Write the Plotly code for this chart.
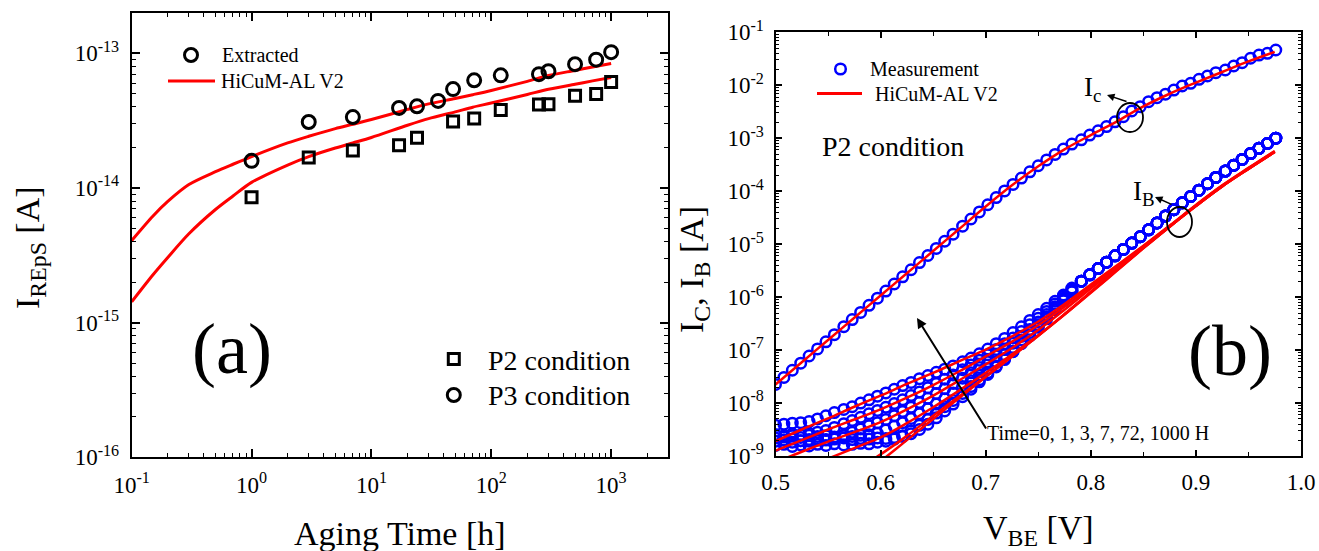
import plotly.graph_objects as go

W, H = 1319, 551
FONT = "Liberation Serif, Times New Roman, serif"

# ---------------- Panel (a): I_REpS vs aging time ----------------
aging_p3_h = [1, 3, 7, 17, 24, 36, 48, 72, 120, 250, 300, 500, 750, 1000]
ireps_p3 = [1.59e-14, 3.09e-14, 3.36e-14, 3.93e-14, 4.04e-14, 4.43e-14, 5.42e-14,
            6.30e-14, 6.86e-14, 7.00e-14, 7.36e-14, 8.30e-14, 8.97e-14, 1.02e-13]
aging_p2_h = [1, 3, 7, 17, 24, 48, 72, 120, 250, 300, 500, 750, 1000]
ireps_p2 = [8.55e-15, 1.68e-14, 1.90e-14, 2.08e-14, 2.36e-14, 3.12e-14, 3.28e-14,
            3.79e-14, 4.17e-14, 4.19e-14, 4.84e-14, 4.99e-14, 6.11e-14]
fit_time_h = [0.1, 0.15, 0.2, 0.3, 0.5, 0.7, 1, 2, 3, 5, 7, 10, 20, 30, 50, 70, 100,
              200, 300, 500, 700, 1000]
fit_p3 = [4.07e-15, 6.17e-15, 7.94e-15, 1.06e-14, 1.32e-14, 1.50e-14, 1.71e-14, 2.16e-14,
          2.42e-14, 2.76e-14, 2.97e-14, 3.22e-14, 3.83e-14, 4.21e-14, 4.62e-14, 4.93e-14,
          5.30e-14, 6.19e-14, 6.84e-14, 7.46e-14, 7.91e-14, 8.39e-14]
fit_p2 = [1.43e-15, 2.26e-15, 3.05e-15, 4.57e-15, 6.92e-15, 8.71e-15, 1.10e-14, 1.48e-14,
          1.71e-14, 1.98e-14, 2.16e-14, 2.37e-14, 2.92e-14, 3.27e-14, 3.67e-14, 3.98e-14,
          4.27e-14, 4.95e-14, 5.40e-14, 5.89e-14, 6.24e-14, 6.61e-14]
a_xtick_vals = [0.1, 1, 10, 100, 1000]
a_xtick_text = ["10<sup>-1</sup>", "10<sup>0</sup>", "10<sup>1</sup>", "10<sup>2</sup>", "10<sup>3</sup>"]
a_ytick_vals = [1e-16, 1e-15, 1e-14, 1e-13]
a_ytick_text = ["10<sup>-16</sup>", "10<sup>-15</sup>", "10<sup>-14</sup>", "10<sup>-13</sup>"]

# ---------------- Panel (b): Gummel plot (values as log10 of current in A) ----------------
vbe_meas = [0.500, 0.508, 0.516, 0.524, 0.532, 0.540, 0.548, 0.556, 0.565, 0.573,
            0.581, 0.589, 0.597, 0.605, 0.613, 0.621, 0.629, 0.637, 0.645, 0.653,
            0.661, 0.669, 0.678, 0.686, 0.694, 0.702, 0.710, 0.718, 0.726, 0.734,
            0.742, 0.750, 0.758, 0.766, 0.774, 0.782, 0.791, 0.799, 0.807, 0.815,
            0.823, 0.831, 0.839, 0.847, 0.855, 0.863, 0.871, 0.879, 0.887, 0.895,
            0.903, 0.911, 0.919, 0.928, 0.936, 0.944, 0.952, 0.960, 0.968, 0.976]
ic_meas_log10 = [-7.65, -7.516, -7.381, -7.247, -7.112, -6.978, -6.844, -6.709, -6.558, -6.424,
                 -6.289, -6.155, -6.02, -5.886, -5.752, -5.617, -5.483, -5.348, -5.214, -5.08,
                 -4.945, -4.811, -4.66, -4.525, -4.391, -4.256, -4.12, -3.995, -3.872, -3.752,
                 -3.635, -3.52, -3.41, -3.305, -3.205, -3.11, -3.03, -2.94, -2.86, -2.78,
                 -2.69, -2.594, -2.486, -2.405, -2.31, -2.235, -2.17, -2.09, -2.014, -1.963,
                 -1.888, -1.825, -1.763, -1.712, -1.636, -1.574, -1.49, -1.43, -1.397, -1.334]
# I_B measured, V_BE = 0.500 ... 0.782 (separate per aging time)
ib_1000h_low = [-8.42, -8.40, -8.38, -8.37, -8.35, -8.30, -8.24, -8.18, -8.12, -8.07,
                -8.00, -7.94, -7.87, -7.81, -7.74, -7.67, -7.61, -7.54, -7.48, -7.42,
                -7.36, -7.30, -7.22, -7.15, -7.07, -6.98, -6.88, -6.78, -6.67, -6.56,
                -6.44, -6.33, -6.21, -6.08, -5.96, -5.83]
ib_72h_low = [-8.60, -8.62, -8.58, -8.60, -8.57, -8.55, -8.52, -8.46, -8.39, -8.33,
              -8.27, -8.20, -8.14, -8.08, -8.01, -7.94, -7.86, -7.79, -7.71, -7.63,
              -7.55, -7.47, -7.37, -7.28, -7.19, -7.09, -6.99, -6.88, -6.77, -6.65,
              -6.52, -6.40, -6.27, -6.13, -5.99, -5.85]
ib_7h_low = [-8.72, -8.70, -8.74, -8.71, -8.72, -8.70, -8.69, -8.66, -8.60, -8.55,
             -8.49, -8.43, -8.37, -8.31, -8.24, -8.16, -8.08, -7.99, -7.91, -7.82,
             -7.73, -7.63, -7.53, -7.43, -7.33, -7.22, -7.11, -6.99, -6.87, -6.74,
             -6.61, -6.47, -6.33, -6.18, -6.02, -5.87]
ib_3h_low = [-8.60, -8.64, -8.62, -8.65, -8.61, -8.63, -8.62, -8.64, -8.62, -8.63,
             -8.61, -8.60, -8.57, -8.51, -8.44, -8.37, -8.29, -8.20, -8.11, -8.02,
             -7.92, -7.81, -7.69, -7.58, -7.47, -7.35, -7.22, -7.09, -6.95, -6.81,
             -6.67, -6.52, -6.37, -6.21, -6.04, -5.88]
ib_1h_low = [-8.80, -8.78, -8.82, -8.79, -8.81, -8.78, -8.80, -8.77, -8.79, -8.78,
             -8.76, -8.77, -8.74, -8.72, -8.68, -8.62, -8.53, -8.42, -8.31, -8.19,
             -8.07, -7.95, -7.82, -7.69, -7.56, -7.43, -7.30, -7.16, -7.02, -6.87,
             -6.72, -6.56, -6.40, -6.23, -6.06, -5.89]
ib_0h_low = [-8.66, -8.70, -8.68, -8.71, -8.69, -8.67, -8.70, -8.68, -8.66, -8.69,
             -8.67, -8.68, -8.66, -8.67, -8.65, -8.63, -8.58, -8.50, -8.40, -8.28,
             -8.15, -8.02, -7.88, -7.74, -7.60, -7.46, -7.32, -7.18, -7.03, -6.88,
             -6.73, -6.57, -6.41, -6.24, -6.07, -5.90]
# I_B measured, V_BE = 0.791 ... 0.976 (all aging times coincide)
ib_high_shared = [-5.70, -5.58, -5.46, -5.34, -5.22, -5.10, -4.98, -4.86, -4.73, -4.60,
                  -4.47, -4.35, -4.22, -4.10, -3.98, -3.86, -3.74, -3.62, -3.51, -3.40,
                  -3.29, -3.19, -3.10, -3.00]

vbe_model = [0.500, 0.525, 0.550, 0.575, 0.600, 0.625, 0.650, 0.675, 0.700, 0.725,
             0.750, 0.775, 0.800, 0.825, 0.850, 0.875, 0.900, 0.925, 0.950, 0.975]
ic_model_log10 = [-7.65, -7.23, -6.81, -6.39, -5.97, -5.55, -5.13, -4.71, -4.29, -3.89,
                  -3.53, -3.21, -2.94, -2.68, -2.40, -2.16, -1.95, -1.75, -1.55, -1.37]
ib_model_1000h = [-8.72, -8.50, -8.29, -8.07, -7.86, -7.64, -7.43, -7.21, -6.99, -6.74,
                  -6.46, -6.13, -5.76, -5.40, -5.03, -4.65, -4.26, -3.89, -3.56, -3.24]
ib_model_72h = [-8.90, -8.70, -8.50, -8.31, -8.12, -7.90, -7.66, -7.40, -7.12, -6.84,
                -6.53, -6.18, -5.80, -5.43, -5.04, -4.66, -4.27, -3.90, -3.57, -3.25]
ib_model_7h = [-9.12, -8.92, -8.73, -8.55, -8.36, -8.12, -7.86, -7.57, -7.27, -6.96,
               -6.62, -6.24, -5.84, -5.45, -5.05, -4.66, -4.27, -3.90, -3.57, -3.25]
ib_model_3h = [-9.45, -9.25, -9.05, -8.85, -8.65, -8.38, -8.08, -7.76, -7.43, -7.08,
               -6.72, -6.32, -5.90, -5.48, -5.07, -4.67, -4.28, -3.91, -3.58, -3.26]
ib_model_1h = [-10.3, -9.95, -9.6, -9.28, -8.97, -8.62, -8.24, -7.87, -7.50, -7.12,
               -6.73, -6.33, -5.91, -5.49, -5.07, -4.67, -4.28, -3.91, -3.58, -3.26]
ib_model_0h = [-10.7, -10.3, -9.9, -9.5, -9.1, -8.7, -8.3, -7.9, -7.51, -7.12,
               -6.73, -6.33, -5.92, -5.50, -5.08, -4.67, -4.28, -3.91, -3.58, -3.26]
b_xtick_vals = [0.5, 0.6, 0.7, 0.8, 0.9, 1.0]
b_xtick_text = ["0.5", "0.6", "0.7", "0.8", "0.9", "1.0"]
b_ytick_vals = [1e-9, 1e-8, 1e-7, 1e-6, 1e-5, 1e-4, 1e-3, 1e-2, 1e-1]
b_ytick_text = ["10<sup>-9</sup>", "10<sup>-8</sup>", "10<sup>-7</sup>", "10<sup>-6</sup>",
                "10<sup>-5</sup>", "10<sup>-4</sup>", "10<sup>-3</sup>", "10<sup>-2</sup>",
                "10<sup>-1</sup>"]


def lin(vals):
    return [10 ** v for v in vals]


RED = "#ff0000"
BLUE = "#0000ff"

fig = go.Figure()

# panel (a) traces
for fit in (fit_p3, fit_p2):
    fig.add_trace(go.Scatter(x=fit_time_h, y=fit, mode="lines", xaxis="x", yaxis="y",
                             line=dict(color=RED, width=3, shape="spline", smoothing=0.8)))
fig.add_trace(go.Scatter(x=aging_p2_h, y=ireps_p2, mode="markers", xaxis="x", yaxis="y",
                         marker=dict(symbol="square-open", size=11, color="black",
                                     line=dict(width=3, color="black"))))
fig.add_trace(go.Scatter(x=aging_p3_h, y=ireps_p3, mode="markers", xaxis="x", yaxis="y",
                         marker=dict(symbol="circle-open", size=13, color="black",
                                     line=dict(width=3, color="black"))))

# panel (b) measured
circ_b = dict(symbol="circle-open", size=10.5, color=BLUE, line=dict(width=2.5, color=BLUE))
fig.add_trace(go.Scatter(x=vbe_meas, y=lin(ic_meas_log10), mode="markers", xaxis="x2",
                         yaxis="y2", marker=circ_b))
for low in (ib_0h_low, ib_1h_low, ib_3h_low, ib_7h_low, ib_72h_low, ib_1000h_low):
    fig.add_trace(go.Scatter(x=vbe_meas, y=lin(low + ib_high_shared), mode="markers",
                             xaxis="x2", yaxis="y2", marker=circ_b))
# panel (b) model
fig.add_trace(go.Scatter(x=vbe_model, y=lin(ic_model_log10), mode="lines", xaxis="x2",
                         yaxis="y2", line=dict(color=RED, width=2.5, shape="spline")))
for mdl in (ib_model_0h, ib_model_1h, ib_model_3h, ib_model_7h, ib_model_72h, ib_model_1000h):
    fig.add_trace(go.Scatter(x=vbe_model, y=lin(mdl), mode="lines", xaxis="x2", yaxis="y2",
                             line=dict(color=RED, width=2.5, shape="spline")))

tickfont = dict(family=FONT, size=23, color="black")


def axis_common():
    return dict(showline=True, linecolor="black", linewidth=2, mirror="allticks",
                ticks="inside", ticklen=8, tickwidth=1.5, tickcolor="black",
                showgrid=False, zeroline=False, tickfont=tickfont, tickmode="array",
                automargin=False)


xa = axis_common()
xa.update(type="log", range=[-1, 3.477], domain=[131.7 / W, 668.3 / W], anchor="y",
          tickvals=a_xtick_vals, ticktext=a_xtick_text, ticklabelstandoff=6,
          minor=dict(ticks="inside", ticklen=4, tickwidth=1.2, tickcolor="black",
                     dtick="D1", showgrid=False))
ya = axis_common()
ya.update(type="log", range=[-16, -12.703], domain=[1 - 457.3 / H, 1 - 13.3 / H], anchor="x",
          tickvals=a_ytick_vals, ticktext=a_ytick_text, ticklabelstandoff=6,
          minor=dict(ticks="inside", ticklen=4, tickwidth=1.2, tickcolor="black",
                     dtick="D1", showgrid=False))
xb = axis_common()
xb.update(type="linear", range=[0.5, 1.0], domain=[775.5 / W, 1301 / W], anchor="y2",
          tickvals=b_xtick_vals, ticktext=b_xtick_text, ticklen=6, ticklabelstandoff=4,
          minor=dict(ticks="inside", ticklen=4, tickwidth=1.2, tickcolor="black",
                     dtick=0.05, showgrid=False))
yb = axis_common()
yb.update(type="log", range=[-9, -1], domain=[1 - 456 / H, 1 - 32.3 / H], anchor="x2",
          tickvals=b_ytick_vals, ticktext=b_ytick_text, ticklen=6, ticklabelstandoff=5,
          minor=dict(ticks="inside", ticklen=3, tickwidth=1.2, tickcolor="black",
                     dtick="D1", showgrid=False))


def ann(text, x, y, size, xanchor="left", yanchor="middle", angle=0):
    return dict(text=text, x=x / W, y=1 - y / H, xref="paper", yref="paper",
                showarrow=False, xanchor=xanchor, yanchor=yanchor, textangle=angle,
                font=dict(family=FONT, size=size, color="black"))


def arrow(hx, hy, tx, ty, width=2, size=1.0):
    return dict(text="", x=hx / W, y=1 - hy / H, xref="paper", yref="paper",
                ax=tx - hx, ay=ty - hy, showarrow=True, arrowhead=2, arrowsize=size,
                arrowwidth=width, arrowcolor="black")


def circle(cx, cy, rx, ry, color, width):
    return dict(type="circle", xref="paper", yref="paper",
                x0=(cx - rx) / W, x1=(cx + rx) / W, y0=1 - (cy + ry) / H, y1=1 - (cy - ry) / H,
                line=dict(color=color, width=width))


def square(cx, cy, r, color, width):
    return dict(type="rect", xref="paper", yref="paper",
                x0=(cx - r) / W, x1=(cx + r) / W, y0=1 - (cy + r) / H, y1=1 - (cy - r) / H,
                line=dict(color=color, width=width))


def hline(x0, x1, y, color, width):
    return dict(type="line", xref="paper", yref="paper", x0=x0 / W, x1=x1 / W,
                y0=1 - y / H, y1=1 - y / H, line=dict(color=color, width=width))


annotations = [
    # panel (a)
    ann("Extracted", 220, 55, 20),
    ann("HiCuM-AL V2", 219, 81, 20),
    ann("P2 condition", 486, 360, 28),
    ann("P3 condition", 486, 395, 28),
    ann("(a)", 231.6, 349, 72, xanchor="center"),
    ann("Aging Time [h]", 400, 533, 34, xanchor="center"),
    ann("I<sub>REpS</sub> [A]", 30, 248, 34, xanchor="center", angle=-90),
    # panel (b)
    ann("Measurement", 868, 69, 20),
    ann("HiCuM-AL V2", 873, 93.5, 20),
    ann("P2 condition", 820, 147, 28),
    ann("I<sub>c</sub>", 1082, 89, 27),
    ann("I<sub>B</sub>", 1131, 193, 27),
    ann("(b)", 1230, 351, 72, xanchor="center"),
    ann("Time=0, 1, 3, 7, 72, 1000 H", 985, 433, 20),
    ann("V<sub>BE</sub> [V]", 1038, 530, 34, xanchor="center"),
    ann("I<sub>C</sub>, I<sub>B</sub> [A]", 694, 270, 34, xanchor="center", angle=-90),
    arrow(917, 318, 987, 430, width=2, size=1.0),
    arrow(1107, 95, 1128, 102, width=1.5, size=1.0),
    arrow(1155, 197, 1173, 205, width=1.5, size=1.0),
]

shapes = [
    circle(191, 55, 6.5, 6.5, "black", 3),
    hline(168, 215, 81, RED, 3),
    square(453.8, 359, 5.5, "black", 3),
    circle(453.8, 395, 6.5, 6.5, "black", 3),
    circle(840.5, 69, 5.3, 5.3, BLUE, 2.5),
    hline(817, 862, 93.5, RED, 3),
    circle(1130, 117.5, 13, 14.5, "black", 1.8),
    circle(1179.5, 222, 12.5, 15, "black", 1.8),
]

fig.update_layout(
    width=W, height=H, autosize=False,
    margin=dict(l=0, r=0, t=0, b=0, pad=0, autoexpand=False),
    paper_bgcolor="white", plot_bgcolor="white", showlegend=False,
    xaxis=xa, yaxis=ya, xaxis2=xb, yaxis2=yb,
    annotations=annotations, shapes=shapes,
    font=dict(family=FONT, color="black"),
)

fig.write_html(
    "out.html",
    config={"displayModeBar": False},
    post_script="document.body.style.margin='0px';document.body.style.padding='0px';"
                "document.body.style.overflow='hidden';",
)
